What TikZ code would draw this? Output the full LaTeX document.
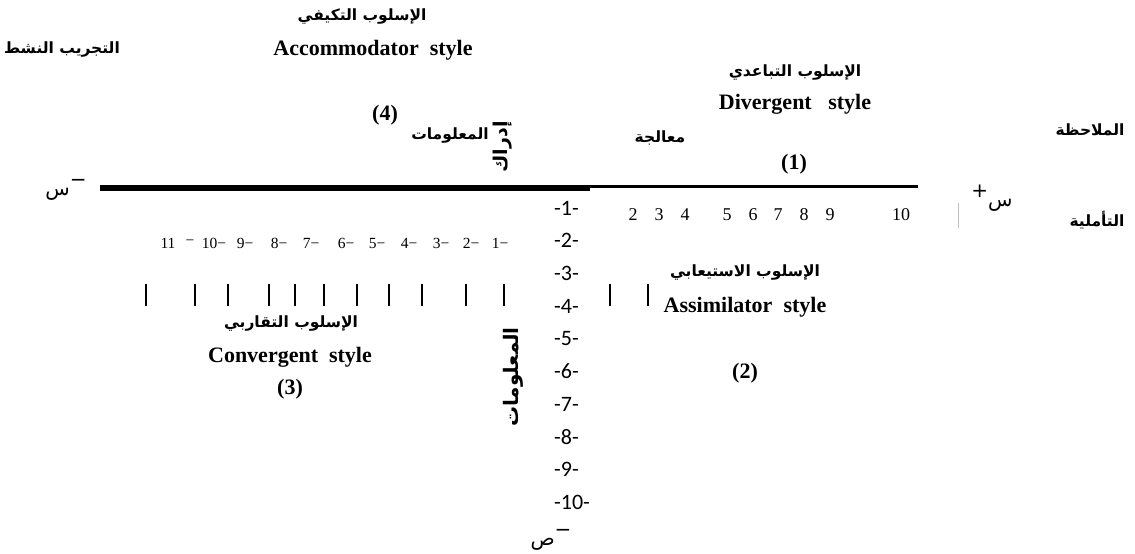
\documentclass[tikz,border=0pt]{standalone}
\usepackage{fontspec}
\setmainfont{Liberation Serif}
\newfontfamily\arabicfont[Script=Arabic]{DejaVu Sans}
\newfontfamily\calfont{Carlito}
\TeXXeTstate=1
\newcommand{\ar}[1]{{\arabicfont\bfseries\beginR #1\endR}}
\begin{document}
\begin{tikzpicture}[x=1pt,y=-1pt,
  en/.style={font=\fontsize{22}{26}\selectfont\bfseries, inner sep=0pt},
  arl/.style={font=\fontsize{15.5}{18}\selectfont, inner sep=0pt},
  num/.style={font=\fontsize{18}{20}\selectfont, inner sep=0pt},
  lnum/.style={font=\fontsize{15.5}{18}\selectfont, inner sep=0pt},
  vnum/.style={font=\calfont\fontsize{22}{24}\selectfont, inner sep=0pt, anchor=west},
  sym/.style={font=\arabicfont\fontsize{20}{22}\selectfont, inner sep=0pt},
  bar/.style={line width=1.5pt},
]
\useasboundingbox (0,0) rectangle (1135,554);

% quadrant 4 (top left)
\node[arl] (t4a) at (362,17) {\ar{الإسلوب التكيفي}};
\node[en] (t4e) at (373,50) {Accommodator\ \ style};
\node[arl] (act) at (62,50) {\ar{التجريب النشط}};
\node[en] (n4) at (385,115) {(4)};
\node[arl] (info1) at (450,136) {\ar{المعلومات}};
\node[arl, rotate=90, font=\fontsize{19}{22}\selectfont] (idr) at (503,147) {\ar{إدراك}};

% quadrant 1 (top right)
\node[arl] (t1a) at (795,73) {\ar{الإسلوب التباعدي}};
\node[en] (t1e) at (795,104) {Divergent\ \ \ style};
\node[arl] (proc) at (660,138) {\ar{معالجة}};
\node[en] (n1) at (794,164) {(1)};
\node[arl] (obs) at (1090,130) {\ar{الملاحظة}};

% horizontal axis
\coordinate (xl) at (100,188);
\coordinate (xm) at (590,188);
\coordinate (xm2) at (590,186.3);
\coordinate (xr) at (918,186.3);
\draw[line width=6pt] (xl) -- (xm);
\draw[line width=2.5pt] (xm2) -- (xr);
\node[sym] (xminus) at (66,190) {س\raisebox{0.8ex}{−}};
\node[sym] (xplus) at (992,198) {\raisebox{0.8ex}{+}س};
\coordinate (gl1) at (958,203);
\coordinate (gl2) at (958,228);
\draw[black!25, line width=0.6pt] (gl1) -- (gl2);
\node[arl] (refl) at (1097,220) {\ar{التأملية}};

% right numbers
\foreach \x/\t in {633/2,659/3,685/4,727/5,753/6,778/7,804/8,830/9,901/10}
  \node[num] (r\t) at (\x,215) {\t};

% left numbers
\foreach \x/\t/\n in {168/11/a,190/−/b,214/10−/c,245/9−/d,279/8−/e,311/7−/f,346/6−/g,377/5−/h,409/4−/i,441/3−/j,471/2−/k,500/1−/l}
  \node[lnum] (l\n) at (\x,243) {\t};

% bars
\foreach \x [count=\i] in {146,195,228,269,295,324,357,389,422,466,504,610,648} {
  \coordinate (bt\i) at (\x,284);
  \coordinate (bb\i) at (\x,306);
  \draw[bar] (bt\i) -- (bb\i);
}

% vertical numbers
\foreach \k in {1,...,10}
  \node[vnum] (v\k) at (554,{208+(\k-1)*32.7}) {-\k-};
\node[sym] (yminus) at (551,540) {ص\raisebox{0.8ex}{−}};

% quadrant 3
\node[arl] (t3a) at (291,323) {\ar{الإسلوب التقاربي}};
\node[en] (t3e) at (290,357) {Convergent\ \ style};
\node[en] (n3) at (290,389) {(3)};
\node[arl, rotate=90, font=\fontsize{20}{23}\selectfont] (info2) at (513,377) {\ar{المعلومات}};

% quadrant 2
\node[arl] (t2a) at (745,273) {\ar{الإسلوب الاستيعابي}};
\node[en] (t2e) at (745,307) {Assimilator\ \ style};
\node[en] (n2) at (745,373) {(2)};
\end{tikzpicture}
\end{document}
